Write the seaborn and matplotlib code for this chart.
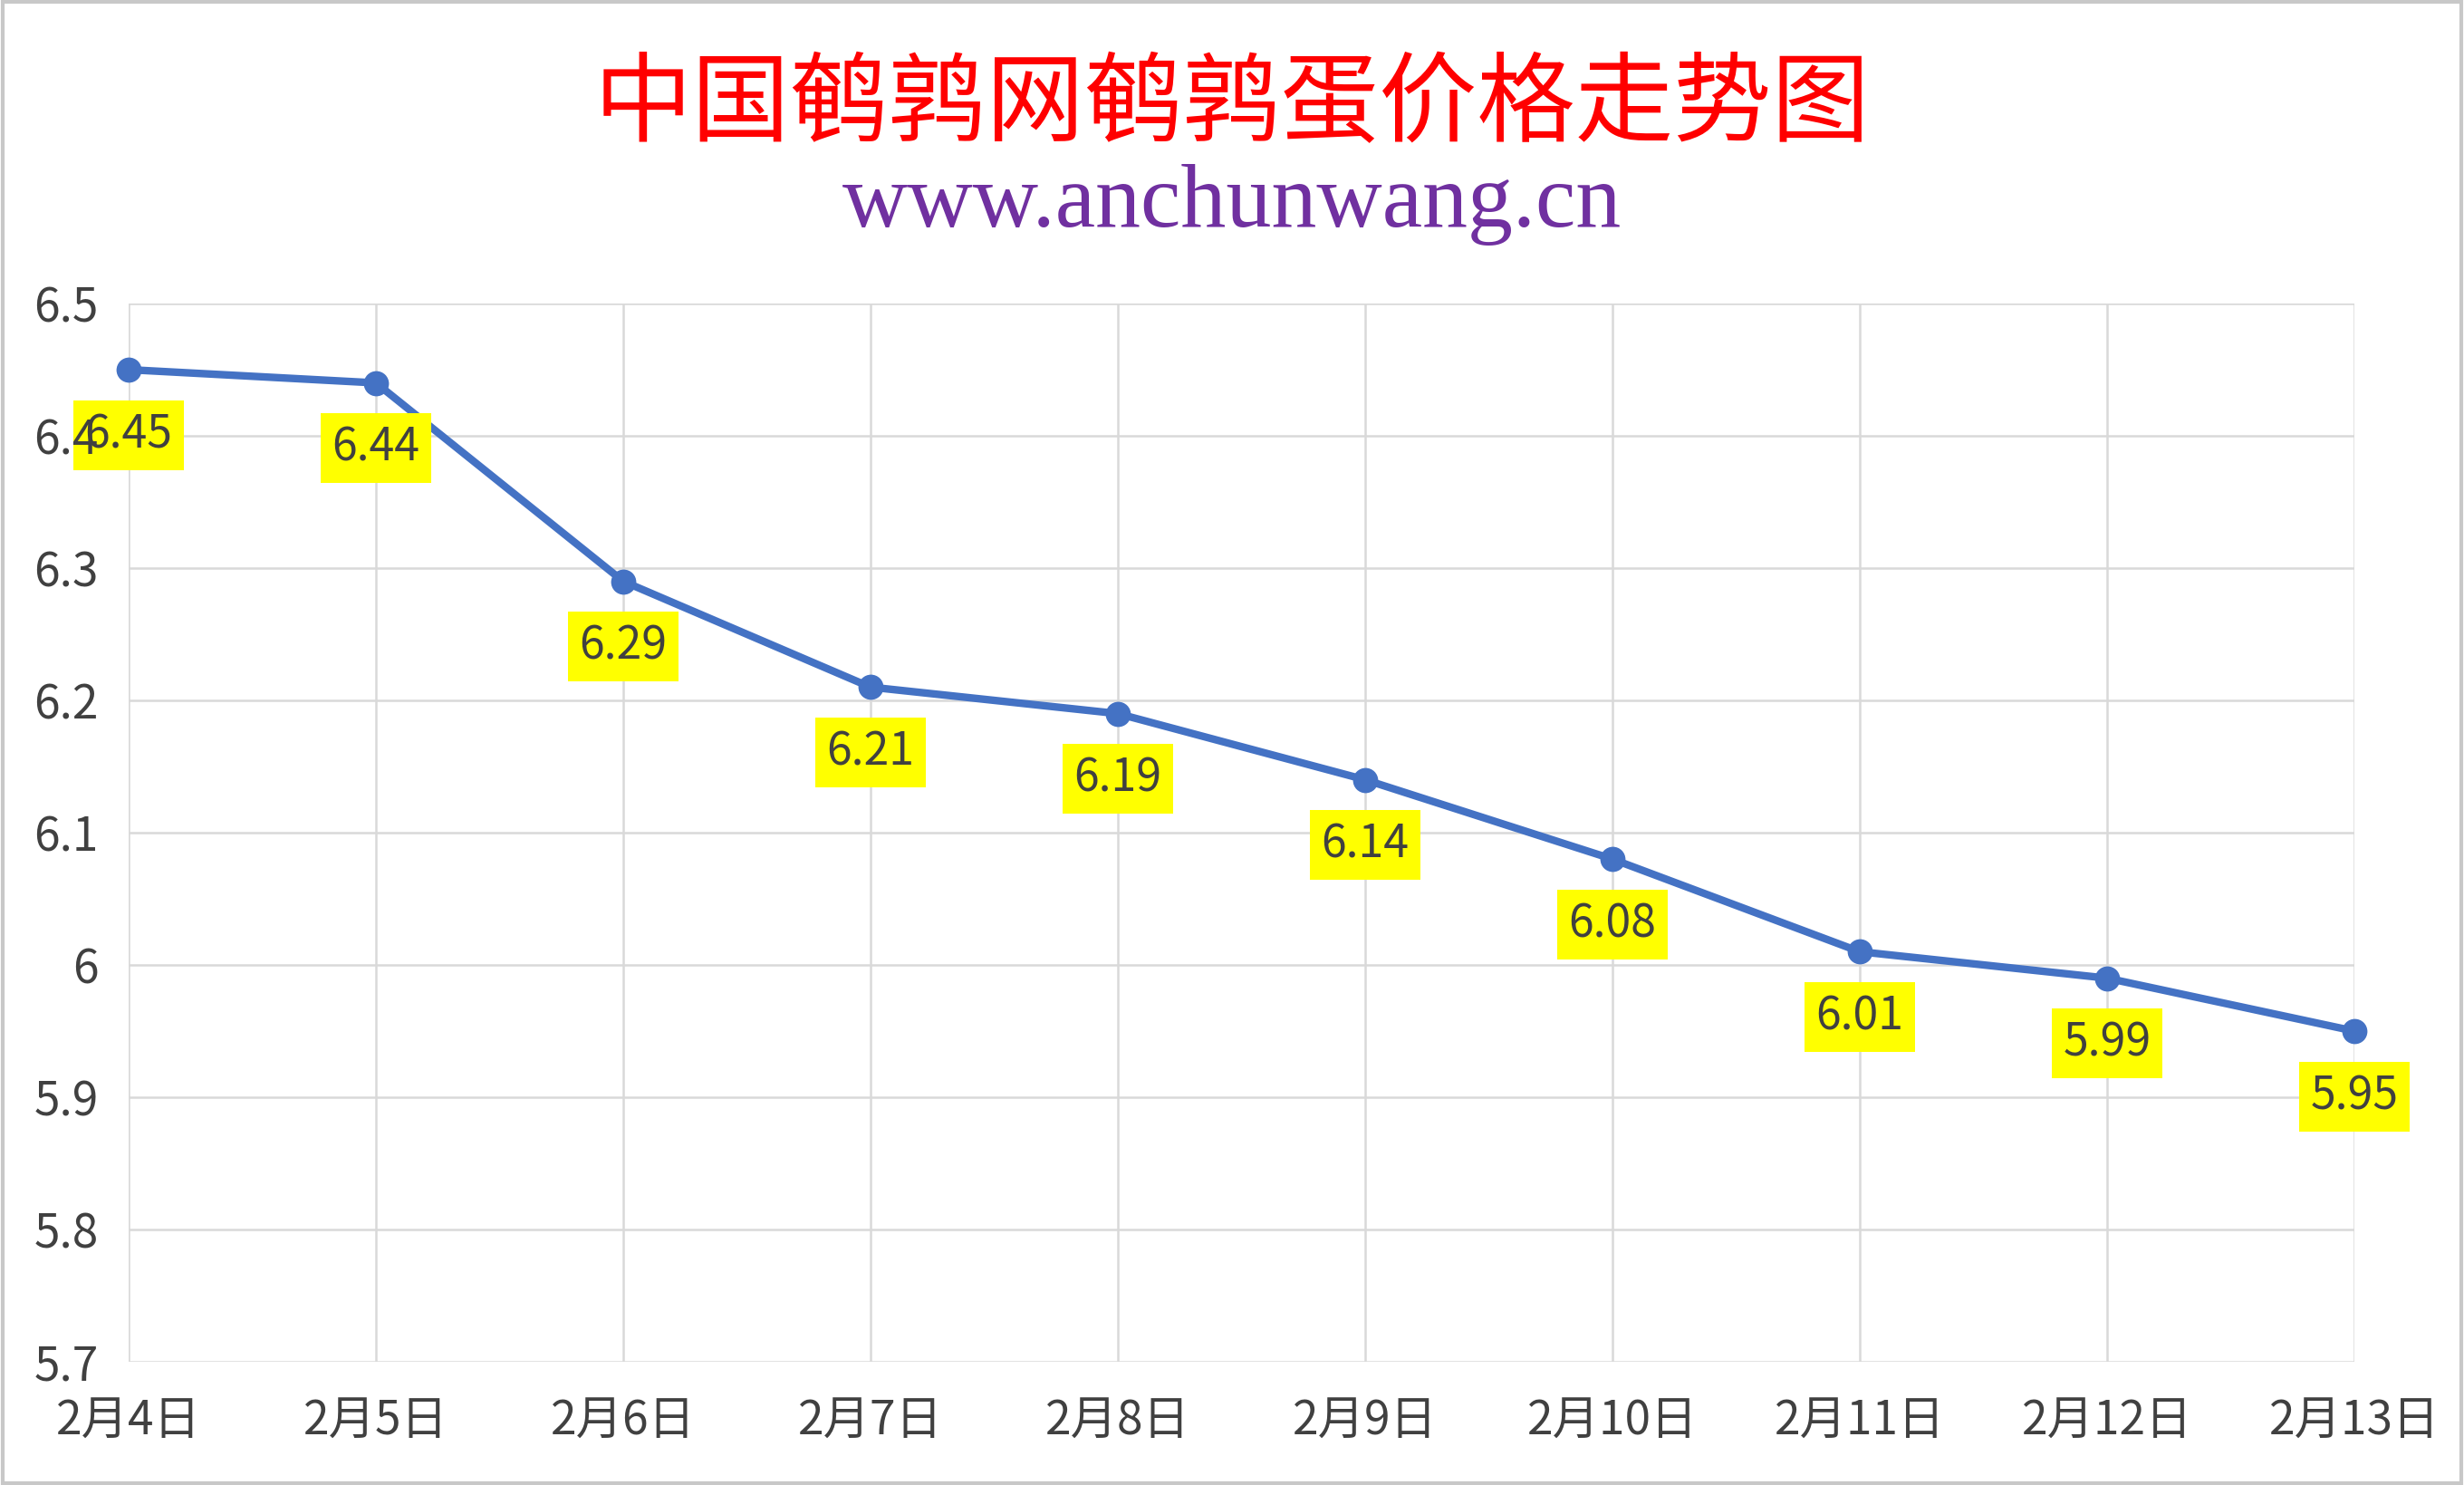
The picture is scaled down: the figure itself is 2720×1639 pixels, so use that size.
import numpy as np
import pandas as pd
import matplotlib
matplotlib.use("Agg")
import matplotlib.pyplot as plt
import seaborn as sns
from matplotlib.patches import Rectangle

# data
dates = ["2月4日", "2月5日", "2月6日", "2月7日", "2月8日",
         "2月9日", "2月10日", "2月11日", "2月12日", "2月13日"]
prices = [6.45, 6.44, 6.29, 6.21, 6.19, 6.14, 6.08, 6.01, 5.99, 5.95]
y_ticks = [5.7, 5.8, 5.9, 6.0, 6.1, 6.2, 6.3, 6.4, 6.5]
y_tick_labels = ["5.7", "5.8", "5.9", "6", "6.1", "6.2", "6.3", "6.4", "6.5"]

title = "中国鹌鹑网鹌鹑蛋价格走势图"
subtitle = "www.anchunwang.cn"

sns.set_theme(style="whitegrid")
plt.rcParams["font.family"] = ["Noto Sans CJK SC", "DejaVu Sans"]

df = pd.DataFrame({"date": dates, "price": prices})

fig = plt.figure(figsize=(27.2, 16.39), dpi=100)
ax = fig.add_axes([0.0522, 0.083, 0.9033, 0.7126])

sns.lineplot(
    data=df, x="date", y="price", sort=False, ax=ax,
    color="#4472C4", linewidth=6, marker="o", markersize=20,
    markeredgewidth=0, zorder=3, clip_on=False,
)

for i, v in enumerate(prices):
    ax.annotate(
        f"{v:.2f}", xy=(i, v), xytext=(0, -52), textcoords="offset points",
        ha="center", va="center", fontsize=36, color="#404040",
        bbox=dict(boxstyle="square,pad=0.25", fc="#FFFF00", ec="none"),
        zorder=5, annotation_clip=False,
    )

ax.set_xlim(0, len(dates) - 1)
ax.set_ylim(5.7, 6.5)
ax.set_yticks(y_ticks)
ax.set_yticklabels(y_tick_labels)
ax.set_xlabel("")
ax.set_ylabel("")
ax.tick_params(axis="both", length=0, labelsize=37, labelcolor="#404040")
ax.tick_params(axis="y", pad=24)
ax.tick_params(axis="x", pad=28)

# vertical grid from the x axis, horizontal grid drawn separately so the
# y tick labels can sit on top of the data label boxes (as in the original)
ax.grid(True, axis="x", color="#D9D9D9", linewidth=1.8)
ax.grid(False, axis="y")
for yt in y_ticks:
    ax.axhline(yt, color="#D9D9D9", linewidth=1.8, zorder=0.5)
ax.yaxis.set_zorder(6)

for s in ax.spines.values():
    s.set_visible(False)

fig.text(0.5, 0.928, title, ha="center", va="center", fontsize=78,
         color="#FF0000", family=["Noto Sans CJK SC", "DejaVu Sans"])
fig.text(0.5, 0.862, subtitle, ha="center", va="center", fontsize=72,
         color="#7030A0", family="Liberation Serif")

fig.patches.append(Rectangle((0.001, 0.001), 0.998, 0.998, transform=fig.transFigure,
                             fill=False, ec="#C8C8C8", lw=3))

fig.savefig("out.png", dpi=100, facecolor="white")
